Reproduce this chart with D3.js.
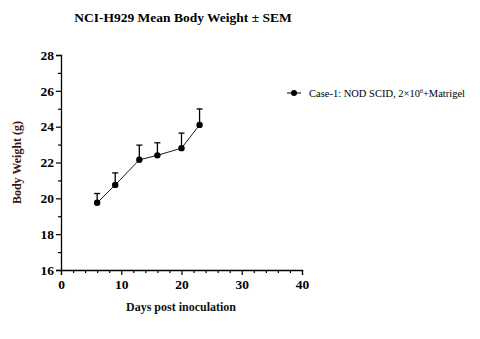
<!DOCTYPE html>
<html lang="en">
<head>
    <meta charset="UTF-8">
    <script src="https://d3js.org/d3.v7.min.js"></script>
    <title>NCI-H929 Mean Body Weight</title>
    <style>
        body { margin: 0; background: #fff; }
        text { font-family: "Liberation Serif", "Times New Roman", serif; }
    </style>
</head>
<body>
    <script>
        var days = [6, 9, 13, 16, 20, 23];
        var meanWeight = [19.75, 20.75, 22.15, 22.4, 22.8, 24.1];
        var sem = [0.52, 0.67, 0.82, 0.7, 0.84, 0.89];
        var xTicks = [0, 10, 20, 30, 40];
        var yTicks = [16, 18, 20, 22, 24, 26, 28];
        var seriesName = "Case-1: NOD SCID, 2\u00d710";

        var w = 480;
        var h = 339;

        var svg = d3.select("body")
                    .append("svg")
                    .attr("width", w)
                    .attr("height", h);

        var x = d3.scaleLinear().domain([0, 40]).range([61, 302]);
        var y = d3.scaleLinear().domain([16, 28]).range([270, 55]);

        // title
        svg.append("text")
            .attr("x", 183)
            .attr("y", 22)
            .attr("text-anchor", "middle")
            .attr("font-weight", "bold")
            .attr("font-size", 13.5)
            .text("NCI-H929 Mean Body Weight \u00b1 SEM");

        // axes
        svg.append("g")
            .attr("transform", "translate(0," + y(16) + ")")
            .call(d3.axisBottom(x).tickValues(xTicks).tickSize(5).tickPadding(4));
        svg.append("g")
            .attr("transform", "translate(0," + y(16) + ")")
            .call(d3.axisBottom(x).tickValues(d3.range(2, 40, 2).filter(function(d) { return d % 10; }))
                .tickSize(3).tickFormat(""))
            .select(".domain").remove();

        svg.append("g")
            .attr("transform", "translate(" + x(0) + ",0)")
            .call(d3.axisLeft(y).tickValues(yTicks).tickSize(5).tickPadding(2));
        svg.append("g")
            .attr("transform", "translate(" + x(0) + ",0)")
            .call(d3.axisLeft(y).tickValues(d3.range(17, 28, 2)).tickSize(3).tickFormat(""))
            .select(".domain").remove();

        svg.selectAll(".domain").attr("stroke", "#000").attr("stroke-width", 1.3);
        svg.selectAll(".tick line").attr("stroke", "#000").attr("stroke-width", 1.2);
        svg.selectAll(".tick text")
            .attr("font-family", "'Liberation Serif', serif")
            .attr("font-weight", "bold")
            .attr("font-size", 13.5)
            .attr("fill", "#000");

        // axis labels
        svg.append("text")
            .attr("x", 181)
            .attr("y", 311)
            .attr("text-anchor", "middle")
            .attr("font-weight", "bold")
            .attr("font-size", 12)
            .attr("fill", "#111")
            .text("Days post inoculation");

        svg.append("text")
            .attr("transform", "translate(21," + y(22) + ") rotate(-90)")
            .attr("text-anchor", "middle")
            .attr("font-weight", "bold")
            .attr("font-size", 12)
            .attr("fill", "#3d1414")
            .text("Body Weight (g)");

        var data = days.map(function(d, i) {
            return { day: d, mean: meanWeight[i], sem: sem[i] };
        });

        // error bars (upper only)
        var err = svg.selectAll("g.err")
            .data(data)
            .enter()
            .append("g")
            .attr("class", "err");
        err.append("line")
            .attr("x1", function(d) { return x(d.day); })
            .attr("x2", function(d) { return x(d.day); })
            .attr("y1", function(d) { return y(d.mean); })
            .attr("y2", function(d) { return y(d.mean + d.sem); })
            .attr("stroke", "#000")
            .attr("stroke-width", 1.3);
        err.append("line")
            .attr("x1", function(d) { return x(d.day) - 3; })
            .attr("x2", function(d) { return x(d.day) + 3; })
            .attr("y1", function(d) { return y(d.mean + d.sem); })
            .attr("y2", function(d) { return y(d.mean + d.sem); })
            .attr("stroke", "#000")
            .attr("stroke-width", 1.3);

        var line = d3.line()
            .x(function(d) { return x(d.day); })
            .y(function(d) { return y(d.mean); });

        svg.append("path")
            .datum(data)
            .attr("d", line)
            .attr("fill", "none")
            .attr("stroke", "#000")
            .attr("stroke-width", 0.9);

        svg.selectAll("circle.pt")
            .data(data)
            .enter()
            .append("circle")
            .attr("class", "pt")
            .attr("cx", function(d) { return x(d.day); })
            .attr("cy", function(d) { return y(d.mean); })
            .attr("r", 3.2)
            .attr("fill", "#000");

        // legend
        var lg = svg.append("g").attr("transform", "translate(287,93)");
        lg.append("line")
            .attr("x1", 0).attr("x2", 14)
            .attr("y1", 0).attr("y2", 0)
            .attr("stroke", "#000").attr("stroke-width", 1);
        lg.append("circle")
            .attr("cx", 7).attr("cy", 0).attr("r", 3)
            .attr("fill", "#000");
        var lt = lg.append("text")
            .attr("x", 22)
            .attr("y", 3.5)
            .attr("font-size", 10.5)
            .attr("fill", "#000")
            .text(seriesName);
        lt.append("tspan")
            .attr("font-size", 6)
            .attr("dy", -4)
            .text("6");
        lt.append("tspan")
            .attr("dy", 4)
            .text("+Matrigel");
    </script>
</body>
</html>
